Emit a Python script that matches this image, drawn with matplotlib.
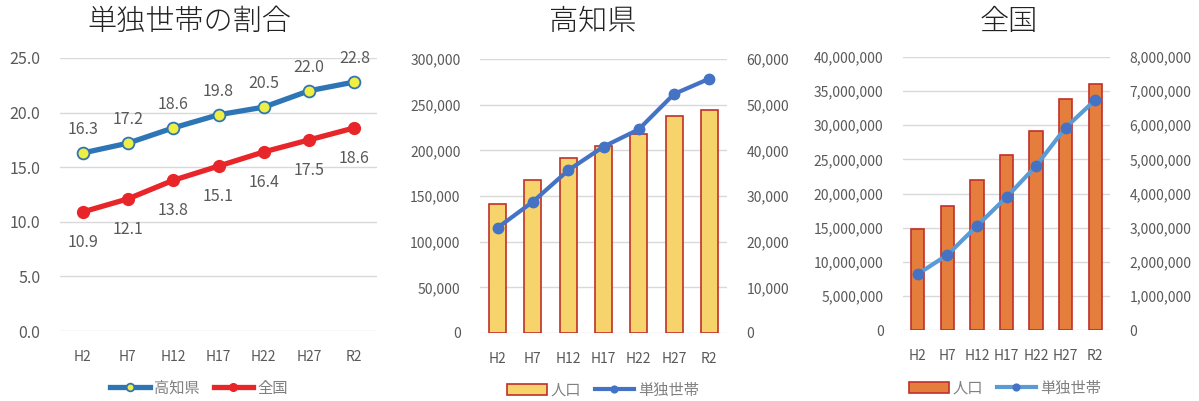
import matplotlib
matplotlib.use('Agg')
import matplotlib.pyplot as plt
from matplotlib.ticker import FuncFormatter

plt.rcParams['font.family'] = ['Noto Sans CJK JP', 'DejaVu Sans']

years = ['H2', 'H7', 'H12', 'H17', 'H22', 'H27', 'R2']

# 単独世帯の割合 (%)
ratio_kochi = [16.3, 17.2, 18.6, 19.8, 20.5, 22.0, 22.8]
ratio_zenkoku = [10.9, 12.1, 13.8, 15.1, 16.4, 17.5, 18.6]

# 高知県
kochi_pop = [141000, 167500, 191600, 205000, 217600, 238000, 244600]
kochi_single = [23060, 28750, 35630, 40800, 44600, 52340, 55690]

# 全国
zen_pop = [14800000, 18200000, 22000000, 25600000, 29200000, 33800000, 36000000]
zen_single = [1640000, 2200000, 3050000, 3890000, 4810000, 5930000, 6740000]

GRAY = '#595959'
LEG_GRAY = '#808080'
GRID = '#D9D9D9'
W, H = 1199, 401


def rect(l, r, t, b):
    return [l / W, (H - b) / H, (r - l) / W, (b - t) / H]


def style(ax, pad):
    for s in ax.spines.values():
        s.set_visible(False)
    ax.tick_params(length=0, colors=GRAY, labelsize=10, pad=pad)
    ax.grid(axis='y', color=GRID, lw=1)
    ax.set_axisbelow(True)
    ax.set_xlim(-0.5, len(years) - 0.5)


def legend(ax, handles, labels, cx, cy):
    leg = ax.legend(handles, labels, loc='center', bbox_to_anchor=(cx / W, 1 - cy / H),
                    bbox_transform=fig.transFigure, ncol=2, frameon=False,
                    fontsize=11, labelcolor=LEG_GRAY, handlelength=2.6,
                    columnspacing=0.9, handletextpad=0.25, markerscale=0.65)
    return leg


comma = FuncFormatter(lambda v, p: f'{int(v):,}')

fig = plt.figure(figsize=(11.99, 4.01), dpi=100)

# --- chart 1 ---
ax1 = fig.add_axes(rect(60, 377, 58, 331))
style(ax1, 14)
x = range(len(years))
ax1.plot(x, ratio_kochi, color='#2E75B6', lw=3.8, marker='o', ms=8.5,
         mfc='#EEEE44', mec='#2E75B6', mew=1.3, label='高知県')
ax1.plot(x, ratio_zenkoku, color='#E8262A', lw=3.8, marker='o', ms=8.5,
         mfc='#E8262A', mec='#E8262A', label='全国')
ax1.set_ylim(0, 25)
ax1.set_yticks([0, 5, 10, 15, 20, 25])
ax1.yaxis.set_major_formatter(FuncFormatter(lambda v, p: f'{v:.1f}'))
ax1.set_xticks(list(x), years)
ax1.tick_params(axis='y', labelsize=11.5)
for i in x:
    ax1.annotate(f'{ratio_kochi[i]:.1f}', (i, ratio_kochi[i]), xytext=(0, 17),
                 textcoords='offset points', ha='center', va='center',
                 color=GRAY, fontsize=11.5)
    ax1.annotate(f'{ratio_zenkoku[i]:.1f}', (i, ratio_zenkoku[i]), xytext=(0, -22),
                 textcoords='offset points', ha='center', va='center',
                 color=GRAY, fontsize=11.5)
h, l = ax1.get_legend_handles_labels()
legend(ax1, h, l, 199, 388)
fig.text(189 / W, 1 - 22 / H, '単独世帯の割合', ha='center', va='center',
         fontsize=21, color='#222222', fontweight='light')


def combo(rl, rr, rt, rb, pop, single, ymax1, ymax2, nt, bar_fc, line_c, mk_c,
          bw, title, tx, leg_x, leg_y):
    ax = fig.add_axes(rect(rl, rr, rt, rb))
    style(ax, 14)
    xs = range(len(years))
    ax.bar(xs, pop, width=bw, color=bar_fc, edgecolor='#C0302A', lw=1.2, label='人口')
    ax.set_ylim(0, ymax1)
    ax.set_yticks([ymax1 * k / nt for k in range(nt + 1)])
    ax.yaxis.set_major_formatter(comma)
    ax.set_xticks(list(xs), years)
    axr = ax.twinx()
    for s in axr.spines.values():
        s.set_visible(False)
    axr.plot(xs, single, color=line_c, lw=3, marker='o', ms=7.5, mfc=mk_c,
             mec=mk_c, label='単独世帯')
    axr.set_ylim(0, ymax2)
    axr.set_yticks([ymax2 * k / nt for k in range(nt + 1)])
    axr.yaxis.set_major_formatter(comma)
    axr.tick_params(length=0, colors=GRAY, labelsize=10, pad=14)
    h1, l1 = ax.get_legend_handles_labels()
    h2, l2 = axr.get_legend_handles_labels()
    legend(axr, h1 + h2, l1 + l2, leg_x, leg_y)
    fig.text(tx / W, 1 - 22 / H, title, ha='center', va='center',
             fontsize=21, color='#222222', fontweight='light')


combo(480, 727, 59, 333, kochi_pop, kochi_single, 300000, 60000, 6,
      '#F7D36B', '#4472C4', '#4472C4', 0.48, '高知県', 593, 603, 390)
combo(903, 1110, 57, 330, zen_pop, zen_single, 40000000, 8000000, 8,
      '#E57E3C', '#5B9BD5', '#4472C4', 0.45, '全国', 1009, 1005, 388)

fig.savefig('out.png', dpi=100)
